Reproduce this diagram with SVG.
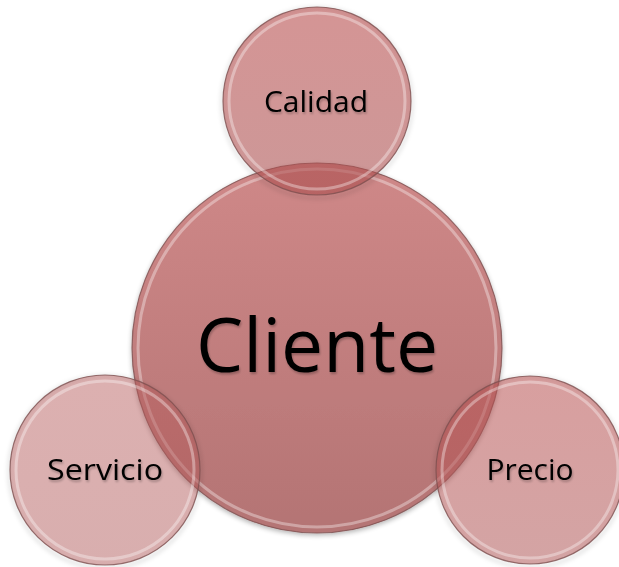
<svg xmlns="http://www.w3.org/2000/svg" width="619" height="567" viewBox="0 0 619 567">
  <defs>
    <linearGradient id="gBig" x1="0" y1="0" x2="0" y2="1">
      <stop offset="0" stop-color="#cf8888"/>
      <stop offset="1" stop-color="#b47474"/>
    </linearGradient>
    <linearGradient id="gCal" x1="0" y1="0" x2="0" y2="1">
      <stop offset="0" stop-color="#b64848"/>
      <stop offset="1" stop-color="#a84c4c"/>
    </linearGradient>
    <linearGradient id="gServ" x1="0" y1="0" x2="0" y2="1">
      <stop offset="0" stop-color="#b65a5a"/>
      <stop offset="1" stop-color="#ae5656"/>
    </linearGradient>
    <linearGradient id="gPre" x1="0" y1="0" x2="0" y2="1">
      <stop offset="0" stop-color="#b85050"/>
      <stop offset="1" stop-color="#b05959"/>
    </linearGradient>
    <filter id="shadow" x="-20%" y="-20%" width="140%" height="140%">
      <feGaussianBlur in="SourceAlpha" stdDeviation="2.5"/>
      <feOffset dx="0" dy="2" result="b"/>
      <feComponentTransfer><feFuncA type="linear" slope="0.3"/></feComponentTransfer>
      <feMerge><feMergeNode/><feMergeNode in="SourceGraphic"/></feMerge>
    </filter>
    <filter id="soft" x="-20%" y="-20%" width="140%" height="140%">
      <feGaussianBlur stdDeviation="2"/>
    </filter>
    <filter id="tshadow" x="-10%" y="-20%" width="120%" height="150%">
      <feGaussianBlur in="SourceAlpha" stdDeviation="1.2"/>
      <feOffset dx="1" dy="2"/>
      <feComponentTransfer><feFuncA type="linear" slope="0.25"/></feComponentTransfer>
      <feMerge><feMergeNode/><feMergeNode in="SourceGraphic"/></feMerge>
    </filter>
  </defs>
  <style>
    .edge { fill: none; stroke: #7d4f4f; stroke-width: 1.2; stroke-opacity: 0.8; }
    .bevel { fill: none; stroke: #ffffff; stroke-width: 3; stroke-opacity: 0.35; }
    .halo { fill: none; stroke: #000000; stroke-width: 3; stroke-opacity: 0.12; }
    .lbl { font-family: "Open Sans", "Liberation Sans", sans-serif; fill: #000000; text-anchor: middle; }
  </style>
  <rect width="619" height="567" fill="#ffffff"/>

  <g id="node-cliente" filter="url(#shadow)">
    <circle cx="317" cy="348" r="185" fill="url(#gBig)"/>
    <circle cx="317" cy="348" r="179" class="bevel"/>
    <circle cx="317" cy="348" r="185" class="edge"/>
  </g>

  <g id="node-calidad">
    <circle cx="317" cy="103" r="95" class="halo" filter="url(#soft)"/>
    <circle cx="317" cy="101" r="94" fill="url(#gCal)" fill-opacity="0.58"/>
    <circle cx="317" cy="101" r="88" class="bevel"/>
    <circle cx="317" cy="101" r="94" class="edge"/>
  </g>

  <g id="node-servicio">
    <circle cx="105" cy="472" r="96" class="halo" filter="url(#soft)"/>
    <circle cx="105" cy="470" r="95" fill="url(#gServ)" fill-opacity="0.48"/>
    <circle cx="105" cy="470" r="89" class="bevel"/>
    <circle cx="105" cy="470" r="95" class="edge"/>
  </g>

  <g id="node-precio">
    <circle cx="530" cy="472" r="95" class="halo" filter="url(#soft)"/>
    <circle cx="530" cy="470" r="94" fill="url(#gPre)" fill-opacity="0.55"/>
    <circle cx="530" cy="470" r="88" class="bevel"/>
    <circle cx="530" cy="470" r="94" class="edge"/>
  </g>

  <g id="labels" filter="url(#tshadow)">
    <text class="lbl" x="317" y="372" font-size="75">Cliente</text>
    <text class="lbl" x="316" y="112" font-size="30">Calidad</text>
    <text class="lbl" x="105" y="480" font-size="30" textLength="116" lengthAdjust="spacingAndGlyphs">Servicio</text>
    <text class="lbl" x="530" y="480" font-size="30">Precio</text>
  </g>

  <g id="connectors"/>
</svg>
